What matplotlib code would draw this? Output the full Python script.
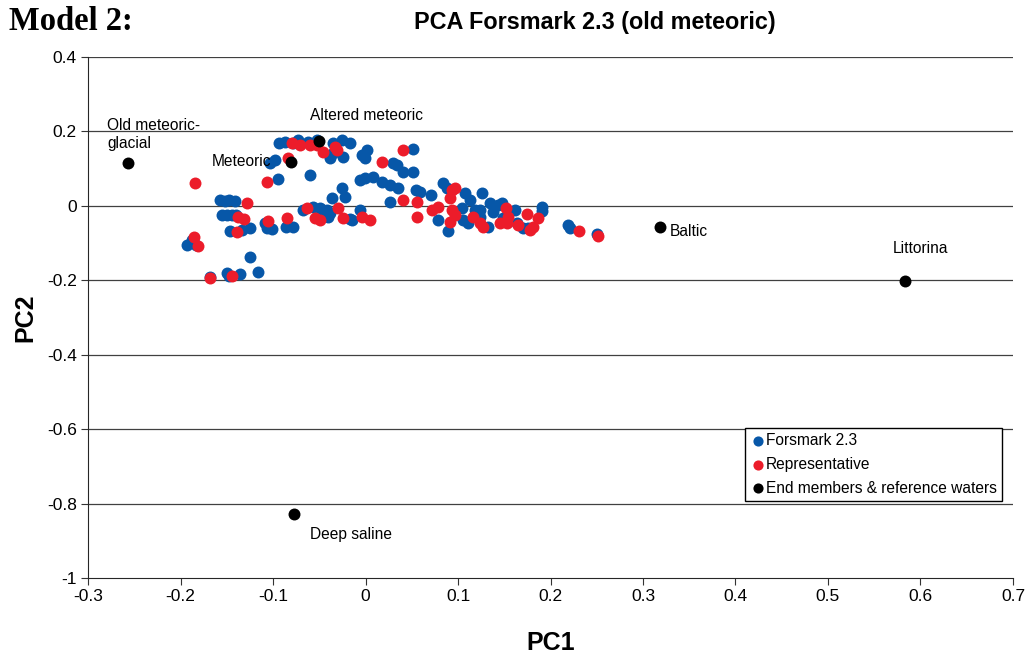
import numpy as np
import matplotlib
matplotlib.use('Agg')
from matplotlib import pyplot as plt

plt.rcParams['font.family'] = ['Liberation Sans', 'DejaVu Sans']

# Forsmark 2.3 samples (PC1, PC2)
forsmark_pc1 = [-0.193, -0.188, -0.183, -0.168, -0.150, -0.148, -0.136, -0.125, -0.116,
                -0.157, -0.152, -0.148, -0.141, -0.155, -0.150, -0.144, -0.140, -0.146,
                -0.134, -0.125, -0.106, -0.101, -0.109, -0.086, -0.078, -0.095, -0.103,
                -0.098, -0.094, -0.087, -0.078, -0.073, -0.062, -0.052, -0.035, -0.025,
                -0.017, -0.038, -0.024, -0.035, -0.060, -0.004, 0.002, -0.001, 0.030,
                0.034, 0.041, 0.051, 0.051, -0.006, -0.001, 0.008, 0.018, 0.026,
                0.035, 0.055, -0.025, -0.022, -0.036, 0.026, -0.068, -0.057, -0.049,
                -0.046, -0.042, -0.041, -0.038, -0.017, -0.006, -0.015, 0.084, 0.088,
                0.059, 0.071, 0.078, 0.089, 0.108, 0.113, 0.126, 0.118, 0.105,
                0.111, 0.124, 0.135, 0.143, 0.138, 0.153, 0.132, 0.148, 0.149,
                0.162, 0.164, 0.170, 0.176, 0.191, 0.191, 0.219, 0.221, 0.250,
                0.124, 0.104]
forsmark_pc2 = [-0.105, -0.092, -0.105, -0.191, -0.180, -0.189, -0.183, -0.137, -0.178,
                0.016, 0.013, 0.016, 0.013, -0.025, -0.025, -0.025, -0.025, -0.068,
                -0.065, -0.060, -0.060, -0.062, -0.046, -0.057, -0.057, 0.072, 0.115,
                0.123, 0.169, 0.172, 0.169, 0.177, 0.172, 0.177, 0.169, 0.177,
                0.169, 0.129, 0.131, 0.142, 0.083, 0.137, 0.150, 0.129, 0.115,
                0.110, 0.091, 0.091, 0.153, 0.069, 0.075, 0.078, 0.064, 0.056,
                0.048, 0.043, 0.048, 0.024, 0.021, 0.010, -0.011, -0.003, -0.006,
                -0.011, -0.011, -0.030, -0.019, -0.035, -0.011, -0.038, 0.061, 0.048,
                0.037, 0.029, -0.038, -0.068, 0.035, 0.016, 0.035, -0.011, -0.038,
                -0.046, -0.030, 0.008, 0.003, -0.017, -0.038, -0.057, 0.008, -0.033,
                -0.011, -0.046, -0.060, -0.060, -0.003, -0.014, -0.051, -0.060, -0.076,
                -0.011, -0.006]

# representative samples
repr_pc1 = [-0.185, -0.181, -0.184, -0.168, -0.144, -0.128, -0.138, -0.131, -0.139,
            -0.105, -0.085, -0.106, -0.084, -0.071, -0.060, -0.052, -0.046, -0.033,
            -0.031, 0.018, 0.041, -0.063, -0.055, -0.049, -0.030, -0.024, -0.004,
            0.005, 0.041, 0.056, 0.056, 0.072, 0.078, 0.094, 0.097, 0.091,
            0.094, 0.091, 0.097, 0.116, 0.124, 0.127, 0.145, 0.152, 0.154,
            0.153, 0.165, 0.175, 0.178, 0.181, 0.186, 0.231, 0.251, -0.079]
repr_pc2 = [-0.084, -0.108, 0.061, -0.194, -0.189, 0.008, -0.030, -0.035, -0.070,
            -0.041, -0.033, 0.064, 0.129, 0.163, 0.163, 0.163, 0.145, 0.158,
            0.150, 0.118, 0.150, -0.006, -0.033, -0.038, -0.006, -0.033, -0.030,
            -0.038, 0.016, 0.010, -0.030, -0.011, -0.003, 0.043, 0.048, 0.021,
            -0.011, -0.043, -0.025, -0.030, -0.046, -0.057, -0.046, -0.006, -0.030,
            -0.046, -0.051, -0.022, -0.065, -0.057, -0.033, -0.068, -0.081, 0.169]

# end members & reference waters
end_names = ['Old meteoric-\nglacial', 'Meteoric', 'Altered meteoric', 'Baltic',
             'Littorina', 'Deep saline']
end_pc1 = [-0.257, -0.081, -0.050, 0.318, 0.583, -0.077]
end_pc2 = [0.115, 0.118, 0.174, -0.057, -0.202, -0.828]

fig = plt.figure(figsize=(10.26, 6.56), dpi=100)
ax = fig.add_axes([0.0858, 0.1189, 0.9015, 0.7942])

ms = 74
ax.scatter(forsmark_pc1, forsmark_pc2, s=ms, color='#0757a8', lw=0, zorder=3, label='Forsmark 2.3')
ax.scatter(repr_pc1, repr_pc2, s=ms, color='#ec1c2a', lw=0, zorder=4, label='Representative')
ax.scatter(end_pc1, end_pc2, s=ms, color='black', lw=0, zorder=5,
           label='End members & reference waters')

# labels next to the end members
offsets = [(-0.022, 0.033, 'left', 'bottom'), (-0.085, 0.0, 'left', 'center'),
           (-0.01, 0.05, 'left', 'bottom'), (0.011, -0.013, 'left', 'center'),
           (-0.013, 0.088, 'left', 'center'), (0.017, -0.055, 'left', 'center')]
for name, x, y, (dx, dy, ha, va) in zip(end_names, end_pc1, end_pc2, offsets):
    ax.text(x + dx, y + dy, name, fontsize=11.2, ha=ha, va=va, zorder=6)

ax.set_xlim(-0.3, 0.7)
ax.set_ylim(-1, 0.4)
ax.set_xticks(np.arange(-0.3, 0.71, 0.1))
ax.set_xticklabels(['-0.3', '-0.2', '-0.1', '0', '0.1', '0.2', '0.3', '0.4', '0.5', '0.6', '0.7'])
ax.set_yticks(np.arange(-1, 0.41, 0.2))
ax.set_yticklabels(['-1', '-0.8', '-0.6', '-0.4', '-0.2', '0', '0.2', '0.4'])
ax.tick_params(labelsize=12.5, direction='out', length=5, width=0.8, color='0.2', pad=3)
for y in np.arange(-0.8, 0.41, 0.2):
    ax.axhline(y, color='0.25', lw=0.9, zorder=1)
for s in ['top', 'right']:
    ax.spines[s].set_visible(False)
ax.spines['left'].set_color('0.15')
ax.spines['bottom'].set_color('0.15')

ax.set_xlabel('PC1', fontsize=18, fontweight='bold', labelpad=19)
ax.set_ylabel('PC2', fontsize=18, fontweight='bold', labelpad=7)

leg = ax.legend(loc='upper left', bbox_to_anchor=(0.71, 0.288), borderaxespad=0,
                fancybox=False, framealpha=1, edgecolor='black', fontsize=11.2,
                handletextpad=0.0, handlelength=1.0, borderpad=0.35, labelspacing=0.55,
                scatterpoints=1, markerscale=0.85)
leg.get_frame().set_linewidth(1.0)
leg.set_zorder(10)

fig.text(0.5795, 0.966, 'PCA Forsmark 2.3 (old meteoric)', fontsize=16.8, fontweight='bold',
         ha='center', va='center')
fig.text(0.009, 0.967, 'Model 2:', fontsize=23.5, fontweight='bold', family='Liberation Serif',
         ha='left', va='center')

fig.savefig('out.png', dpi=100)
